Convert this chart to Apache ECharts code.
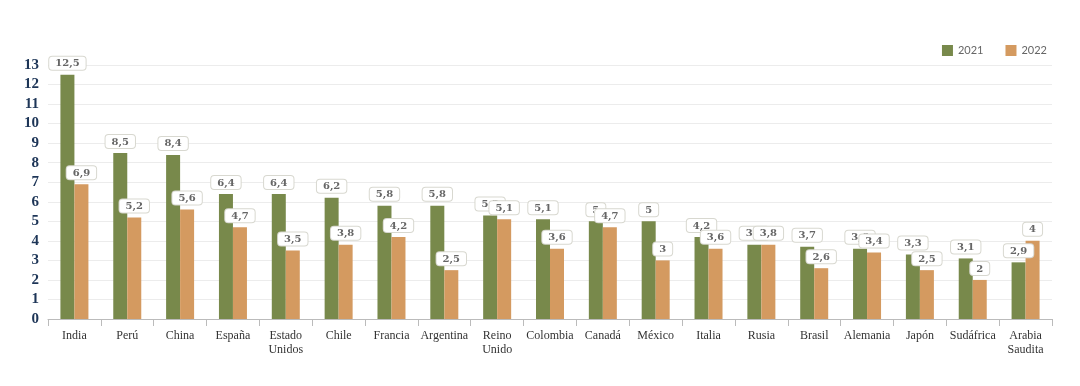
<!DOCTYPE html>
<html><head><meta charset="utf-8">
<script src="https://cdn.jsdelivr.net/npm/echarts@6/dist/echarts.min.js"></script>
<style>html,body{margin:0;padding:0;background:#fff}#c{width:1080px;height:386px}</style>
</head><body><div id="c"></div>
<script>
const categories = ["India","Perú","China","España","Estado Unidos","Chile","Francia","Argentina","Reino Unido","Colombia","Canadá","México","Italia","Rusia","Brasil","Alemania","Japón","Sudáfrica","Arabia Saudita"];
const values2021 = [12.5,8.5,8.4,6.4,6.4,6.2,5.8,5.8,5.3,5.1,5,5,4.2,3.8,3.7,3.6,3.3,3.1,2.9];
const values2022 = [6.9,5.2,5.6,4.7,3.5,3.8,4.2,2.5,5.1,3.6,4.7,3,3.6,3.8,2.6,3.4,2.5,2,4];
const seriesNames = ["2021","2022"];
const yTicks = [0,1,2,3,4,5,6,7,8,9,10,11,12,13];

const serif = "'Liberation Serif', 'DejaVu Serif', serif";
const labelStyle = {
  show: true, position: 'top', distance: 5,
  formatter: p => String(p.value).replace('.', ','),
  fontFamily: "'DejaVu Serif', serif", fontSize: 10, fontWeight: 'bold', color: '#666',
  backgroundColor: '#fff', borderColor: '#d8d8d0', borderWidth: 1, borderRadius: 3,
  padding: [2, 6, 1, 6]
};
const chart = echarts.init(document.getElementById('c'), null, {renderer: 'canvas'});
chart.setOption({
  animation: false,
  legend: {
    top: 40, right: 28, itemWidth: 11, itemHeight: 11, itemGap: 22, icon: 'rect',
    textStyle: {fontFamily: "Lato, 'Open Sans', sans-serif", fontSize: 11, color: '#666'},
    data: seriesNames
  },
  grid: {left: 48, right: 28, top: 65, bottom: 67},
  xAxis: {
    type: 'category', data: categories,
    axisLine: {lineStyle: {color: '#bbb'}},
    axisTick: {show: true, length: 7, lineStyle: {color: '#bbb'}},
    axisLabel: {
      interval: 0, fontFamily: serif, fontSize: 12, color: '#333', margin: 10, lineHeight: 14,
      formatter: v => v.replace(' ', '\n')
    }
  },
  yAxis: {
    type: 'value', min: yTicks[0], max: yTicks[yTicks.length - 1], interval: 1,
    axisLine: {show: false}, axisTick: {show: false},
    splitLine: {lineStyle: {color: '#ececec'}},
    axisLabel: {fontFamily: serif, fontSize: 15, fontWeight: 'bold', color: '#1d3557', margin: 9}
  },
  series: [
    {name: seriesNames[0], type: 'bar', data: values2021, barWidth: 14, barGap: '0%',
     itemStyle: {color: '#78894b'}, label: labelStyle},
    {name: seriesNames[1], type: 'bar', data: values2022, barWidth: 14,
     itemStyle: {color: '#d49a60'}, label: labelStyle}
  ]
});
</script></body></html>
